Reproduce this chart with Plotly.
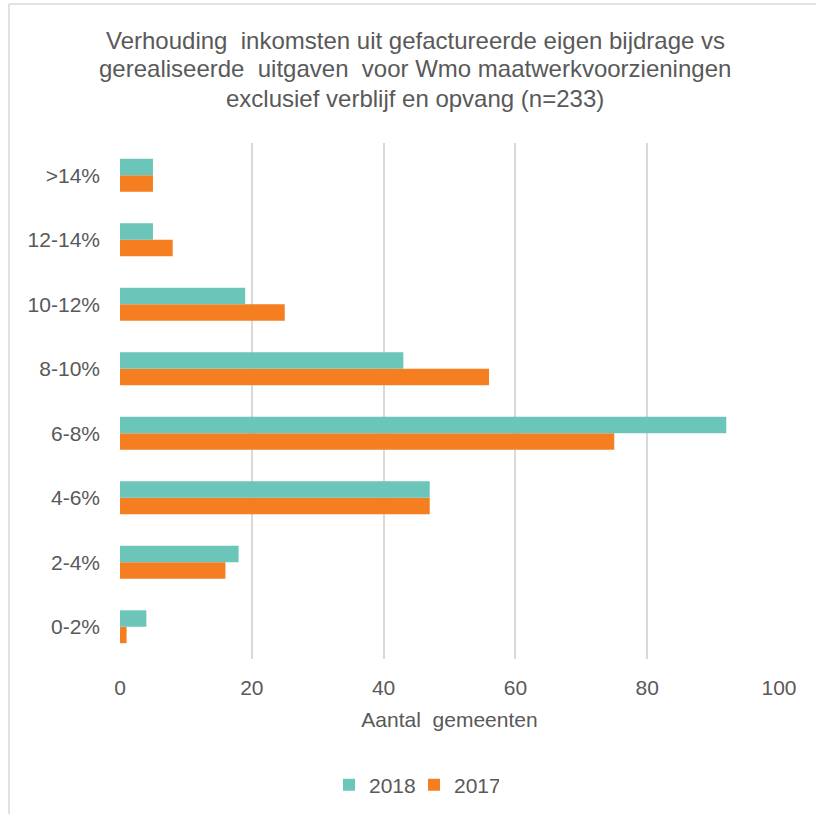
import plotly.graph_objects as go

categories = ["0-2%", "2-4%", "4-6%", "6-8%", "8-10%", "10-12%", "12-14%", ">14%"]
values_2018 = [4, 18, 47, 92, 43, 19, 5, 5]
values_2017 = [1, 16, 47, 75, 56, 25, 8, 5]
x_ticks = [0, 20, 40, 60, 80, 100]
title_lines = [
    "Verhouding  inkomsten uit gefactureerde eigen bijdrage vs",
    "gerealiseerde  uitgaven  voor Wmo maatwerkvoorzieningen",
    "exclusief verblijf en opvang (n=233)",
]

TEAL = "#6CC5B9"
ORANGE = "#F47E20"
TXT = "#595959"
FONT = "Liberation Sans, Arial, sans-serif"

fig = go.Figure()
fig.add_trace(go.Bar(y=categories, x=values_2017, name="2017", orientation="h",
                     marker=dict(color=ORANGE, line=dict(width=0))))
fig.add_trace(go.Bar(y=categories, x=values_2018, name="2018", orientation="h",
                     marker=dict(color=TEAL, line=dict(width=0))))

W, H = 816, 814
L, R, T, B = 120, 37, 143, 155
pw, ph = W - L - R, H - T - B


def px_x(x):
    return (x - L) / pw


def px_y(y):
    return (H - B - y) / ph


annotations = []
for i, line in enumerate(title_lines):
    annotations.append(dict(
        text=line, xref="paper", yref="paper", x=px_x(415), y=px_y(40 + 29 * i),
        xanchor="center", yanchor="middle", showarrow=False,
        font=dict(family=FONT, size=24, color=TXT),
    ))

fig.update_layout(
    width=W, height=H,
    margin=dict(l=L, r=R, t=T, b=B, pad=0),
    paper_bgcolor="white", plot_bgcolor="white",
    font=dict(family=FONT, color=TXT, size=21),
    barmode="group", bargap=0.49, bargroupgap=0,
    annotations=annotations,
    xaxis=dict(
        range=[0, 100], tickvals=x_ticks, showgrid=True, gridcolor="#D9D9D9",
        gridwidth=1.5, zeroline=False, showline=False, ticks="",
        tickfont=dict(size=21, color=TXT), ticklabelstandoff=14,
        title=dict(text="Aantal  gemeenten", font=dict(size=21, color=TXT), standoff=14),
        fixedrange=True,
    ),
    yaxis=dict(
        categoryorder="array", categoryarray=categories,
        showgrid=False, zeroline=False, showline=False, ticks="",
        tickfont=dict(size=21, color=TXT), ticklabelstandoff=19,
        fixedrange=True,
    ),
    legend=dict(
        orientation="h", traceorder="reversed",
        x=414 / W, xanchor="center", xref="container",
        y=1 - 785 / H, yanchor="middle", yref="container",
        font=dict(size=21, color=TXT), itemwidth=30,
        entrywidth=40, entrywidthmode="pixels",
    ),
    shapes=[
        dict(type="line", xref="paper", yref="paper",
             x0=px_x(9), x1=px_x(W + 5), y0=px_y(4), y1=px_y(4),
             line=dict(color="#D9D9D9", width=1.5)),
        dict(type="line", xref="paper", yref="paper",
             x0=px_x(9), x1=px_x(9), y0=px_y(4), y1=px_y(H + 5),
             line=dict(color="#D9D9D9", width=1.5)),
    ],
)

fig.write_html("out.html", config={"displayModeBar": False},
               post_script="document.body.style.margin='0';")
